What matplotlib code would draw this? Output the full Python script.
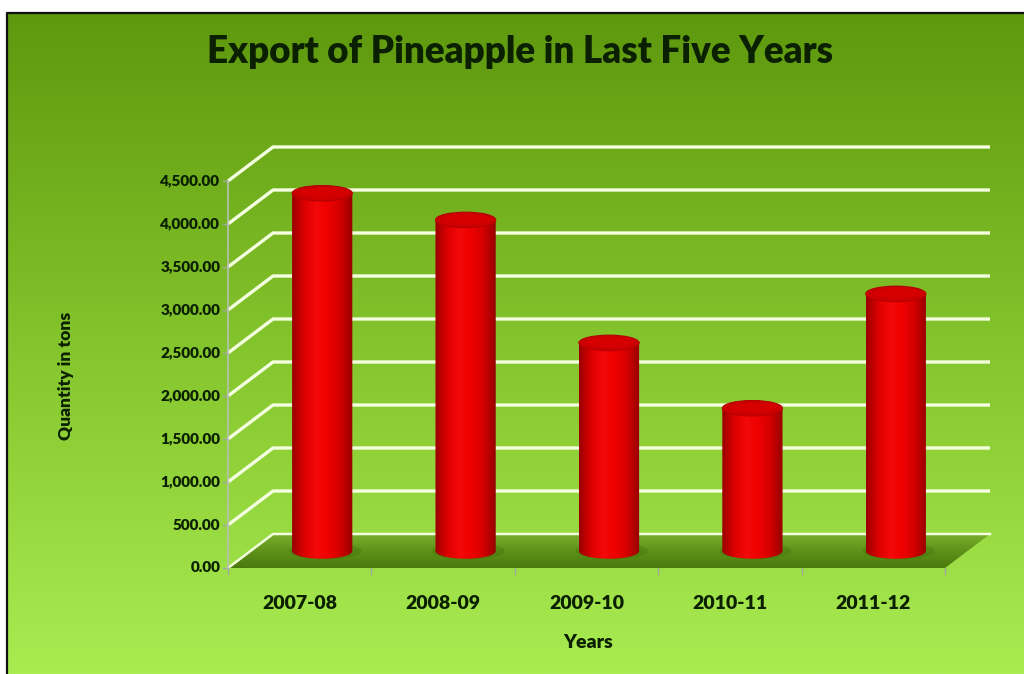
import numpy as np
import matplotlib
matplotlib.use("Agg")
import matplotlib.pyplot as plt
from matplotlib.patches import Polygon, Ellipse, PathPatch
from matplotlib.path import Path
from matplotlib.colors import LinearSegmentedColormap
import matplotlib.transforms as mtransforms

years = ["2007-08", "2008-09", "2009-10", "2010-11", "2011-12"]
quantity = [4160, 3850, 2420, 1660, 2990]
y_ticks = [0, 500, 1000, 1500, 2000, 2500, 3000, 3500, 4000, 4500]

TXT = "#0b2000"
FONT = "Lato"
WT = "heavy"

W, H = 1024, 674
fig = plt.figure(figsize=(W / 100, H / 100), dpi=100)

# background: white margin, black frame, vertical green gradient
bg = fig.add_axes([0, 0, 1, 1])
bg.set_xlim(0, W)
bg.set_ylim(H, 0)
bg.axis("off")
green = LinearSegmentedColormap.from_list("g", ["#5e980e", "#84c42c", "#a9ec52"])
grad = np.linspace(0, 1, 256).reshape(-1, 1)
bg.imshow(grad, cmap=green, extent=[8, W, H, 13], aspect="auto", zorder=0)
bg.plot([7, 7, W], [H, 12.5, 12.5], color="#111111", lw=1.6, zorder=1)

# front plane of the chart
x0, x1 = 228 / W, 945 / W
y0, y1 = 1 - 568 / H, 1 - 181 / H
ax = fig.add_axes([x0, y0, x1 - x0, y1 - y0])
ax.set_xlim(0, 5)
ax.set_ylim(0, 4500)
ax.patch.set_alpha(0)
for s in ax.spines.values():
    s.set_visible(False)
ax.set_xticks([])
ax.set_yticks([])

# oblique depth offsets (inches)
DX, DY = 0.45, 0.34
back = ax.transData + mtransforms.ScaledTranslation(DX, DY, fig.dpi_scale_trans)
mid = ax.transData + mtransforms.ScaledTranslation(DX / 2, DY / 2, fig.dpi_scale_trans)

n = len(years)

# floor
floor_cmap = LinearSegmentedColormap.from_list("f", ["#4a7a0c", "#5e921a", "#7aae2c"])
pts_front = ax.transData.transform([(0, 0), (n, 0)])
pts_back = back.transform([(n, 0), (0, 0)])
floor_pts = np.vstack([pts_front, pts_back])
floor_patch = Polygon(floor_pts, closed=True, transform=None, facecolor="none",
                      edgecolor="none", zorder=2)
fig.add_artist(floor_patch)
fimg = bg.imshow(np.linspace(0, 1, 64).reshape(-1, 1)[::-1], cmap=floor_cmap,
                 extent=[floor_pts[:, 0].min(), floor_pts[:, 0].max(),
                         H - floor_pts[:, 1].min(), H - floor_pts[:, 1].max()],
                 aspect="auto", zorder=2)
fimg.set_clip_path(floor_patch)

# gridlines on left wall and back wall
for v in y_ticks:
    p_front = ax.transData.transform((0, v))
    p_back = back.transform((0, v))
    p_end = back.transform((n, v))
    xs = [p_front[0], p_back[0], p_end[0]]
    ys = [H - p_front[1], H - p_back[1], H - p_end[1]]
    if v == 0:
        bg.plot(xs, ys, color="#f4ffe0", lw=1.8, zorder=3)
    else:
        bg.plot(xs, ys, color="#f4ffe0", lw=2.4, zorder=1.5, solid_capstyle="butt")
    bg.plot([p_front[0] - 5, p_front[0]], [H - p_front[1]] * 2, color="#a0a8a0", lw=1, zorder=3)
    ax.text(-0.04, v, f"{v:,.2f}", ha="right", va="center", fontsize=11,
            fontweight=WT, color=TXT, family=FONT, transform=ax.transData
            + mtransforms.ScaledTranslation(-0.02, 0, fig.dpi_scale_trans))

# front axis line and category ticks
pa = ax.transData.transform((0, 0))
pb = ax.transData.transform((0, 4500))
bg.plot([pa[0], pb[0]], [H - pa[1], H - pb[1]], color="#b8c0b8", lw=1.2, zorder=3)
for k in range(n + 1):
    pk = ax.transData.transform((k, 0))
    bg.plot([pk[0], pk[0]], [H - pk[1], H - pk[1] + 6], color="#a0a8a0", lw=1, zorder=3)

# cylinders
BW = 0.42
ELL = 180
body_cmap = LinearSegmentedColormap.from_list(
    "r", ["#9a0000", "#dc0000", "#f40808", "#ee0000", "#d20000", "#960000"])
for i, q in enumerate(quantity):
    cx = i + 0.5
    # shadow on floor
    sh = Ellipse((cx + 0.02, 0), BW * 1.2, ELL * 1.1, transform=mid,
                 facecolor="#3c6a08", alpha=0.3, edgecolor="none", zorder=3)
    ax.add_patch(sh)
    # body outline: rectangle plus lower half of bottom ellipse
    t = np.linspace(np.pi, 2 * np.pi, 40)
    bx = cx + BW / 2 * np.cos(t)
    by = ELL / 2 * np.sin(t)
    verts = [(cx - BW / 2, q)] + list(zip(bx, by)) + [(cx + BW / 2, q), (cx - BW / 2, q)]
    body = PathPatch(Path(verts), transform=mid, facecolor="none", edgecolor="none", zorder=4)
    ax.add_patch(body)
    im = ax.imshow(np.linspace(0, 1, 128).reshape(1, -1), cmap=body_cmap,
                   extent=[cx - BW / 2, cx + BW / 2, -ELL / 2, q], aspect="auto",
                   transform=mid, zorder=4, interpolation="bilinear")
    im.set_clip_path(body)
    top = Ellipse((cx, q), BW, ELL, transform=mid, facecolor="#cc0000",
                  edgecolor="#b40000", lw=0.8, zorder=5)
    ax.add_patch(top)
    inner = Ellipse((cx + 0.01, q + 10), BW * 0.8, ELL * 0.6, transform=mid,
                    facecolor="#d60000", edgecolor="none", zorder=5)
    ax.add_patch(inner)
    ax.text(cx, 0, years[i], ha="center", va="top", fontsize=14, fontweight=WT,
            color=TXT, family=FONT, transform=ax.transData
            + mtransforms.ScaledTranslation(0, -0.27, fig.dpi_scale_trans))

ax.set_xlim(0, 5)
ax.set_ylim(0, 4500)

fig.text(0.508, 1 - 52 / H, "Export of Pineapple in Last Five Years", ha="center",
         va="center", fontsize=26.5, fontweight=WT, color=TXT, family=FONT)
fig.text(0.574, 1 - 642 / H, "Years", ha="center", va="center", fontsize=14,
         fontweight=WT, color=TXT, family=FONT)
fig.text(66 / W, 1 - 376 / H, "Quantity in tons", ha="center", va="center", rotation=90,
         fontsize=12.5, fontweight=WT, color=TXT, family=FONT)

fig.savefig("out.png", dpi=100)
